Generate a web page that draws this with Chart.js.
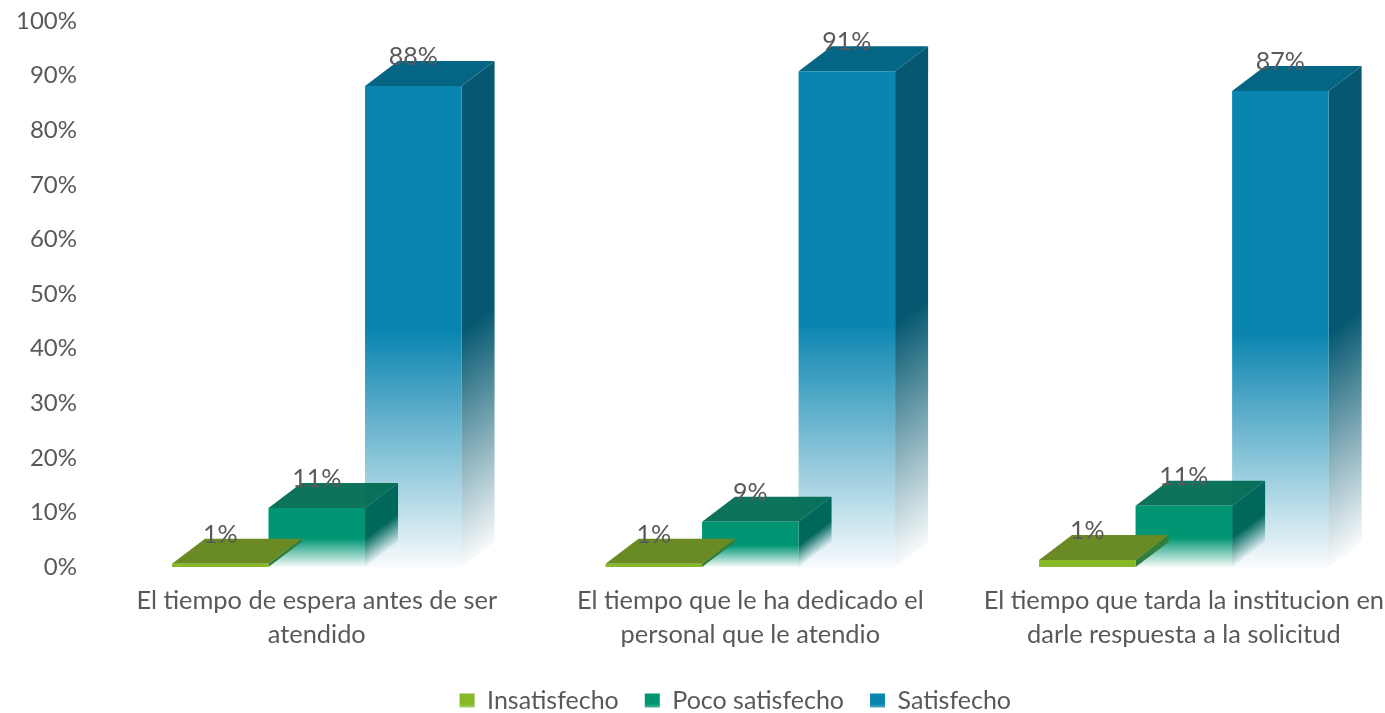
<!DOCTYPE html>
<html>
<head>
<meta charset="utf-8">
<script src="https://cdn.jsdelivr.net/npm/chart.js@4"></script>
<style>
html, body { margin: 0; padding: 0; background: #fff; overflow: hidden; }
</style>
</head>
<body>
<canvas id="chart" width="1401" height="713"></canvas>
<script>
const categories = [
    ['El tiempo de espera antes de ser', 'atendido'],
    ['El tiempo que le ha dedicado el', 'personal que le atendio'],
    ['El tiempo que tarda la institucion en', 'darle respuesta a la solicitud']
];
const seriesNames = ['Insatisfecho', 'Poco satisfecho', 'Satisfecho'];
const insatisfecho = [0.6, 0.6, 1.3];
const pocoSatisfecho = [10.8, 8.3, 11.2];
const satisfecho = [88.1, 90.8, 87.2];
const insatisfechoLabels = ['1%', '1%', '1%'];
const pocoSatisfechoLabels = ['11%', '9%', '11%'];
const satisfechoLabels = ['88%', '91%', '87%'];
const yTicks = [0, 10, 20, 30, 40, 50, 60, 70, 80, 90, 100];

const fontName = 'Lato';
const textColor = '#595959';
const depthX = 33;
const depthY = 25;

const palette = [
    { front: [134, 184, 40], top: 'rgb(106,138,36)', side: [50, 125, 60], fade: 0 },
    { front: [0, 150, 115], top: 'rgba(0,108,82,0.95)', side: [0, 103, 92], fade: 0.48 },
    { front: [10, 133, 176], top: 'rgb(4,101,133)', side: [5, 88, 112], fade: 0.49 }
];

function rgba(c, a) {
    return 'rgba(' + c[0] + ',' + c[1] + ',' + c[2] + ',' + a + ')';
}

function fadeGradient(ctx, y0, y1, color, fade) {
    const g = ctx.createLinearGradient(0, y0, 0, y1);
    if (fade === 0) {
        g.addColorStop(0, rgba(color, 1));
        g.addColorStop(1, rgba(color, 1));
        return g;
    }
    g.addColorStop(0, rgba(color, 0.03));
    g.addColorStop(fade, rgba(color, 1));
    g.addColorStop(1, rgba(color, 1));
    return g;
}

function frontFill(c) {
    const p = palette[c.datasetIndex];
    const y = c.chart.scales.y;
    if (!y || c.raw === undefined) return rgba(p.front, 1);
    return fadeGradient(c.chart.ctx, y.getPixelForValue(0), y.getPixelForValue(c.raw), p.front, p.fade);
}

// sides and tops, drawn just before each dataset's front faces
const bar3d = {
    id: 'bar3d',
    beforeDatasetDraw(chart, args) {
        const ctx = chart.ctx;
        const p = palette[args.index];
        args.meta.data.forEach(bar => {
            const left = bar.x - bar.width / 2;
            const right = bar.x + bar.width / 2;
            const h = bar.base - bar.y;

            ctx.save();
            ctx.transform(1, -depthY / depthX, 0, 1, right, bar.y);
            ctx.fillStyle = fadeGradient(ctx, h, 0, p.side, p.fade);
            ctx.fillRect(0, 0, depthX, h);
            ctx.restore();

            ctx.fillStyle = p.top;
            ctx.beginPath();
            ctx.moveTo(left, bar.y);
            ctx.lineTo(left + depthX, bar.y - depthY);
            ctx.lineTo(right + depthX, bar.y - depthY);
            ctx.lineTo(right, bar.y);
            ctx.closePath();
            ctx.fill();
        });
    }
};

const barLabels = {
    id: 'barLabels',
    afterDatasetsDraw(chart) {
        const ctx = chart.ctx;
        ctx.save();
        ctx.font = '25px ' + fontName;
        ctx.fillStyle = textColor;
        ctx.textAlign = 'center';
        ctx.textBaseline = 'middle';
        chart.data.datasets.forEach((ds, i) => {
            chart.getDatasetMeta(i).data.forEach((bar, j) => {
                ctx.fillText(ds.valueLabels[j], bar.x, bar.y - 29);
            });
        });
        ctx.restore();
    }
};

const moveLegend = {
    id: 'moveLegend',
    afterLayout(chart) {
        chart.legend.left -= 15;
        chart.legend.right -= 15;
        chart.legend.top += 10;
        chart.legend.bottom += 10;
    }
};

new Chart(document.getElementById('chart'), {
    type: 'bar',
    data: {
        labels: categories,
        datasets: [
            { label: seriesNames[0], data: insatisfecho, valueLabels: insatisfechoLabels, backgroundColor: frontFill },
            { label: seriesNames[1], data: pocoSatisfecho, valueLabels: pocoSatisfechoLabels, backgroundColor: frontFill },
            { label: seriesNames[2], data: satisfecho, valueLabels: satisfechoLabels, backgroundColor: frontFill }
        ]
    },
    plugins: [bar3d, barLabels, moveLegend],
    options: {
        responsive: false,
        animation: false,
        barPercentage: 1,
        categoryPercentage: 0.668,
        layout: { autoPadding: false, padding: { top: 21, bottom: 0 } },
        datasets: { bar: { clip: false } },
        plugins: {
            tooltip: { enabled: false },
            legend: {
                position: 'bottom',
                fullSize: false,
                labels: {
                    color: textColor,
                    font: { family: fontName, size: 25 },
                    boxWidth: 15,
                    boxHeight: 14,
                    padding: 26,
                    generateLabels(chart) {
                        return seriesNames.map((name, i) => ({
                            text: name,
                            datasetIndex: i,
                            lineWidth: 0,
                            strokeStyle: 'transparent',
                            fontColor: textColor,
                            fillStyle: fadeGradient(chart.ctx, 716, 692, palette[i].front, 0.5)
                        }));
                    }
                }
            }
        },
        scales: {
            x: {
                grid: { display: false, drawTicks: false },
                border: { display: false },
                afterFit(scale) { scale.height = 85; },
                ticks: {
                    color: textColor,
                    font: { family: fontName, size: 25.4, lineHeight: 1.34 },
                    maxRotation: 0,
                    autoSkip: false,
                    padding: 17
                }
            },
            y: {
                min: 0,
                max: 100,
                grid: { display: false, drawTicks: true, tickLength: 23 },
                border: { display: false },
                afterFit(scale) { scale.width = 100; },
                afterBuildTicks(scale) { scale.ticks = yTicks.map(v => ({ value: v })); },
                ticks: {
                    color: textColor,
                    font: { family: fontName, size: 24 },
                    padding: 0,
                    callback: v => v + '%'
                }
            }
        }
    }
});
</script>
</body>
</html>
